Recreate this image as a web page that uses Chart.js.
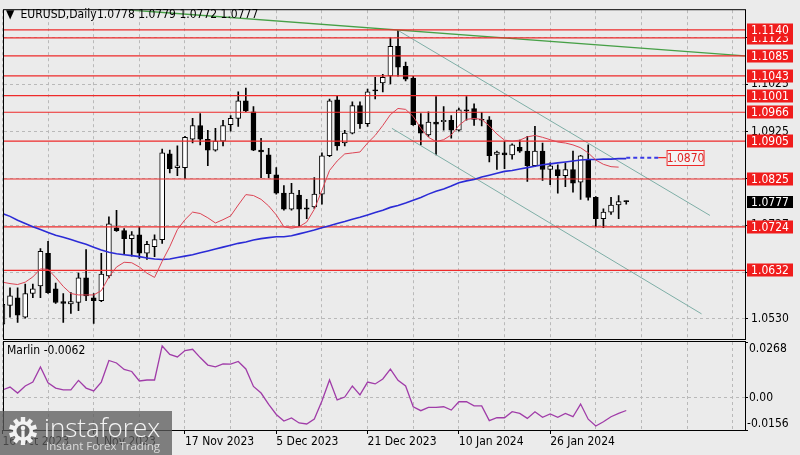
<!DOCTYPE html>
<html>
<head>
<meta charset="utf-8">
<script src="https://cdn.jsdelivr.net/npm/chart.js@4.4.1/dist/chart.umd.min.js"></script>
<style>
  html, body { margin: 0; padding: 0; background: #ebebeb; }
  #wrap { position: relative; width: 800px; height: 455px; overflow: hidden; }
  canvas { position: absolute; left: 0; top: 0; }
</style>
</head>
<body>
<div id="wrap">
  <canvas id="priceChart" width="800" height="455"></canvas>
  <canvas id="marlinChart" width="800" height="455"></canvas>
</div>
<script>
// EURUSD daily, bar 0 = 16 Oct 2023, last bar = the current candle
const opens = [
  1.0518, 1.0558, 1.0574, 1.0533, 1.0583, 1.0599, 1.0668, 1.0593, 1.0566, 1.0561,
  1.0564, 1.0616, 1.0574, 1.0568, 1.0620, 1.0722, 1.0716, 1.0699, 1.0707, 1.0668,
  1.0682, 1.0697, 1.0878, 1.0849, 1.0849, 1.0909, 1.0938, 1.0909, 1.0886, 1.0905,
  1.0940, 1.0953, 1.0990, 1.0967, 1.0886, 1.0876, 1.0834, 1.0795, 1.0761, 1.0791,
  1.0764, 1.0766, 1.0793, 1.0874, 1.0992, 1.0901, 1.0922, 1.0980, 1.0942, 1.1013,
  1.1028, 1.1043, 1.1105, 1.1063, 1.1038, 1.0940, 1.0918, 1.0945, 1.0946, 1.0949,
  1.0928, 1.0971, 1.0974, 1.0951, 1.0950, 1.0877, 1.0880, 1.0876, 1.0892, 1.0884,
  1.0853, 1.0884, 1.0845, 1.0845, 1.0832, 1.0845, 1.0818, 1.0866, 1.0786, 1.0741,
  1.0755, 1.0770, 1.0778
];
const highs = [
  1.0565, 1.0595, 1.0595, 1.0603, 1.0603, 1.0678, 1.0693, 1.0605, 1.0583, 1.0585,
  1.0626, 1.0676, 1.0583, 1.0668, 1.0745, 1.0759, 1.0720, 1.0714, 1.0724, 1.0693,
  1.0707, 1.0888, 1.0886, 1.0895, 1.0915, 1.0953, 1.0963, 1.0928, 1.0932, 1.0949,
  1.0959, 1.1009, 1.1017, 1.0978, 1.0911, 1.0890, 1.0849, 1.0811, 1.0816, 1.0801,
  1.0782, 1.0828, 1.0880, 1.0994, 1.1000, 1.0928, 1.0988, 1.0988, 1.1015, 1.1040,
  1.1046, 1.1123, 1.1139, 1.1072, 1.1042, 1.0963, 1.0967, 1.0999, 1.0978, 1.0959,
  1.0975, 1.0999, 1.0984, 1.0966, 1.0957, 1.0884, 1.0905, 1.0899, 1.0907, 1.0915,
  1.0936, 1.0901, 1.0859, 1.0855, 1.0859, 1.0884, 1.0875, 1.0897, 1.0788, 1.0762,
  1.0786, 1.0790, 1.0779
];
const lows = [
  1.0508, 1.0533, 1.0522, 1.0531, 1.0574, 1.0574, 1.0583, 1.0562, 1.0522, 1.0541,
  1.0547, 1.0568, 1.0520, 1.0566, 1.0616, 1.0714, 1.0666, 1.0662, 1.0657, 1.0655,
  1.0661, 1.0689, 1.0838, 1.0832, 1.0826, 1.0901, 1.0897, 1.0853, 1.0884, 1.0895,
  1.0926, 1.0936, 1.0967, 1.0885, 1.0828, 1.0828, 1.0793, 1.0759, 1.0759, 1.0724,
  1.0741, 1.0763, 1.0772, 1.0872, 1.0886, 1.0895, 1.0920, 1.0932, 1.0936, 1.0994,
  1.1009, 1.1026, 1.1042, 1.1032, 1.0938, 1.0897, 1.0915, 1.0876, 1.0928, 1.0911,
  1.0926, 1.0949, 1.0938, 1.0937, 1.0861, 1.0845, 1.0847, 1.0867, 1.0881, 1.0820,
  1.0851, 1.0822, 1.0813, 1.0795, 1.0809, 1.0797, 1.0782, 1.0780, 1.0724, 1.0722,
  1.0750, 1.0741, 1.0772
];
const closes = [
  1.0560, 1.0578, 1.0537, 1.0583, 1.0593, 1.0672, 1.0585, 1.0564, 1.0562, 1.0566,
  1.0616, 1.0578, 1.0568, 1.0624, 1.0730, 1.0716, 1.0699, 1.0707, 1.0668, 1.0687,
  1.0697, 1.0880, 1.0847, 1.0853, 1.0913, 1.0938, 1.0909, 1.0886, 1.0905, 1.0938,
  1.0953, 1.0990, 1.0969, 1.0886, 1.0882, 1.0836, 1.0795, 1.0761, 1.0795, 1.0761,
  1.0761, 1.0793, 1.0874, 1.0990, 1.0895, 1.0922, 1.0980, 1.0942, 1.1009, 1.1011,
  1.1040, 1.1105, 1.1061, 1.1036, 1.0940, 1.0922, 1.0945, 1.0941, 1.0949, 1.0928,
  1.0971, 1.0969, 1.0951, 1.0949, 1.0874, 1.0882, 1.0876, 1.0897, 1.0884, 1.0853,
  1.0884, 1.0845, 1.0853, 1.0832, 1.0845, 1.0816, 1.0874, 1.0786, 1.0741, 1.0755,
  1.0770, 1.0777, 1.0777
];

// moving averages (red = fast, blue = slow)
const redMA = [
  1.0607, 1.0604, 1.0602, 1.0607, 1.0618, 1.0635, 1.0634, 1.0617, 1.0598, 1.0583,
  1.0580, 1.0580, 1.0580, 1.0589, 1.0618, 1.0639, 1.0649, 1.0648, 1.0639, 1.0626,
  1.0617, 1.0651, 1.0682, 1.0718, 1.0739, 1.0755, 1.0752, 1.0743, 1.0732, 1.0739,
  1.0747, 1.0770, 1.0792, 1.0790, 1.0782, 1.0768, 1.0749, 1.0724, 1.0721, 1.0724,
  1.0734, 1.0761, 1.0801, 1.0843, 1.0863, 1.0878, 1.0880, 1.0882, 1.0901, 1.0917,
  1.0938, 1.0961, 1.0974, 1.0972, 1.0957, 1.0932, 1.0913, 1.0904, 1.0908, 1.0918,
  1.0938, 1.0951, 1.0953, 1.0951, 1.0937, 1.0920, 1.0907, 1.0905, 1.0907, 1.0914,
  1.0917, 1.0913, 1.0908, 1.0903, 1.0901, 1.0897, 1.0891, 1.0880, 1.0865, 1.0856,
  1.0851, 1.0850, null
];
const blueMA = [
  1.0752, 1.0746, 1.0738, 1.0731, 1.0724, 1.0718, 1.0712, 1.0706, 1.0702, 1.0697,
  1.0692, 1.0687, 1.0681, 1.0675, 1.0670, 1.0667, 1.0665, 1.0663, 1.0661, 1.0658,
  1.0656, 1.0655, 1.0656, 1.0659, 1.0662, 1.0665, 1.0669, 1.0673, 1.0677, 1.0681,
  1.0685, 1.0689, 1.0692, 1.0696, 1.0699, 1.0701, 1.0703, 1.0703, 1.0705, 1.0709,
  1.0713, 1.0717, 1.0722, 1.0726, 1.0731, 1.0735, 1.0740, 1.0744, 1.0749, 1.0754,
  1.0759, 1.0765, 1.0769, 1.0774, 1.0780, 1.0786, 1.0793, 1.0799, 1.0804, 1.0810,
  1.0817, 1.0821, 1.0824, 1.0829, 1.0833, 1.0837, 1.0841, 1.0843, 1.0846, 1.0849,
  1.0852, 1.0855, 1.0857, 1.0859, 1.0861, 1.0863, 1.0865, 1.0866, 1.0866, 1.0867,
  1.0867, 1.0868, 1.0868
];
const marlin = [
  0.0037, 0.0051, 0.0022, 0.0056, 0.0075, 0.0148, 0.0071, 0.0046, 0.0037, 0.0037,
  0.0083, 0.0046, 0.0032, 0.0075, 0.0179, 0.0167, 0.0136, 0.0126, 0.0080, 0.0085,
  0.0085, 0.0249, 0.0208, 0.0196, 0.0227, 0.0233, 0.0193, 0.0157, 0.0148, 0.0162,
  0.0161, 0.0174, 0.0138, 0.0054, 0.0022, -0.0033, -0.0081, -0.0113, -0.0098, -0.0122,
  -0.0127, -0.0103, -0.0016, 0.0085, -0.0011, 0.0003, 0.0056, 0.0013, 0.0075, 0.0066,
  0.0090, 0.0137, 0.0083, 0.0056, -0.0044, -0.0063, -0.0047, -0.0047, -0.0044, -0.0060,
  -0.0020, -0.0020, -0.0040, -0.0040, -0.0111, -0.0097, -0.0097, -0.0068, -0.0076, -0.0100,
  -0.0068, -0.0095, -0.0079, -0.0095, -0.0076, -0.0092, -0.0031, -0.0104, -0.0137, -0.0116,
  -0.0092, -0.0076, -0.0062
];

const levels = [1.1140, 1.1123, 1.1085, 1.1043, 1.1001, 1.0966, 1.0905, 1.0825, 1.0724, 1.0632];
const priceTicks = [1.1123, 1.1025, 1.0925, 1.0826, 1.0727, 1.0628, 1.0530];
const marlinTicks = [0.0268, 0, -0.0156];
const dateTickIndex = [0, 12, 24, 36, 48, 60, 72];
const dateTickText = ['16 Oct 2023', '1 Nov 2023', '17 Nov 2023', '5 Dec 2023', '21 Dec 2023', '10 Jan 2024', '26 Jan 2024'];

// trend lines: [bar index, price]
const greenLine = [[16.8, 1.1182], [97.6, 1.1085]];
const channelTop = [[52, 1.1139], [93, 1.0748]];
const channelBottom = [[51.2, 1.0932], [91.9, 1.0540]];
const targetPrice = 1.0870;
const targetLine = [82, 86.2, 87.3]; // dotted start, dotted end / label start

const X_MIN = 0.21, X_MAX = 97.61;
const Y_MIN = 1.04869, Y_MAX = 1.11816;
const FONT = "'DejaVu Sans Condensed', 'Liberation Sans', sans-serif";
const GRID = '#b9b9b9';
const LEVEL_RED = '#ee2a2a';

const gridIdx = [];
for (let v = 0; v <= 96; v += 6) gridIdx.push(v);

function segment(points, color, width, order, dash) {
  return {
    type: 'line',
    data: points.map(p => ({ x: p[0], y: p[1] })),
    borderColor: color,
    borderWidth: width,
    borderDash: dash || [],
    pointRadius: 0,
    tension: 0,
    order: order
  };
}

const datasets = [
  {
    type: 'bar',
    data: highs.map((h, i) => ({ x: i, y: [lows[i], h] })),
    backgroundColor: '#000',
    barThickness: 1,
    grouped: false,
    order: 9
  },
  {
    type: 'bar',
    data: opens.map((o, i) => ({ x: i, y: [o, closes[i]] })),
    backgroundColor: opens.map((o, i) => closes[i] > o ? '#ffffff' : '#000000'),
    borderColor: '#000',
    borderWidth: 1,
    borderSkipped: false,
    barThickness: 5,
    minBarLength: 1,
    grouped: false,
    order: 8
  },
  segment(greenLine, '#47a047', 1.4, 7),
  segment(channelTop, '#7eaea6', 1, 7),
  segment(channelBottom, '#7eaea6', 1, 7)
];
levels.forEach(v => datasets.push(segment([[-10, v], [120, v]], LEVEL_RED, 1.2, 6)));
datasets.push(segment(blueMA.map((v, i) => [i, v]), '#2b2bd6', 1.6, 4));
datasets.push(segment(redMA.map((v, i) => [i, v]), '#dc4454', 1, 3));
datasets.push(segment([[targetLine[0], targetPrice], [targetLine[1], targetPrice]], '#3a3ae6', 2, 2, [4, 3]));
datasets.push(segment([[targetLine[1], targetPrice], [targetLine[2], targetPrice]], LEVEL_RED, 1.2, 2));

const priceOverlay = {
  id: 'priceOverlay',
  afterDraw(chart) {
    const { ctx, chartArea: a, scales: { x, y } } = chart;
    ctx.save();
    ctx.strokeStyle = '#000';
    ctx.lineWidth = 1;
    ctx.strokeRect(a.left - 0.5, a.top - 0.5, a.right - a.left + 1, a.bottom - a.top + 1);

    ctx.font = '12px ' + FONT;
    ctx.textBaseline = 'middle';
    ctx.textAlign = 'center';
    // lowest first so upper labels sit on top
    levels.slice().reverse().forEach(v => {
      const py = Math.round(y.getPixelForValue(v));
      ctx.fillStyle = '#f01c1c';
      ctx.fillRect(747, py - 6.5, 46, 13);
      ctx.fillStyle = '#fff';
      ctx.fillText(v.toFixed(4), 770, py + 0.5);
    });

    const last = closes[closes.length - 1];
    const cy = Math.round(y.getPixelForValue(last));
    ctx.fillStyle = '#000';
    ctx.fillRect(747, cy - 6, 46, 12);
    ctx.fillStyle = '#fff';
    ctx.fillText(last.toFixed(4), 770, cy + 0.5);

    // target price label
    const tx = x.getPixelForValue(targetLine[2]);
    const ty = Math.round(y.getPixelForValue(targetPrice));
    ctx.fillStyle = '#f3f3f3';
    ctx.fillRect(tx, ty - 8, 38, 16);
    ctx.strokeStyle = LEVEL_RED;
    ctx.strokeRect(tx + 0.5, ty - 7.5, 37, 15);
    ctx.fillStyle = '#e02424';
    ctx.fillText(targetPrice.toFixed(4), tx + 19, ty + 0.5);

    // header
    ctx.textAlign = 'left';
    ctx.fillStyle = '#000';
    ctx.fillText('\u25BC', 6, 15);
    ctx.fillText('EURUSD,Daily', 20.5, 15);
    const n = opens.length - 1;
    ctx.fillText([opens[n], highs[n], lows[n], closes[n]].map(v => v.toFixed(4)).join(' '), 97, 15);
    ctx.restore();
  }
};

new Chart(document.getElementById('priceChart'), {
  type: 'bar',
  data: { datasets },
  options: {
    responsive: false,
    animation: false,
    events: [],
    layout: { padding: { left: 4, top: 5, right: 0, bottom: 116 }, autoPadding: false },
    plugins: { legend: { display: false }, tooltip: { enabled: false } },
    scales: {
      x: {
        type: 'linear', min: X_MIN, max: X_MAX, offset: false,
        afterBuildTicks: s => { s.ticks = gridIdx.map(v => ({ value: v })); },
        afterFit: s => { s.height = 0; },
        ticks: { display: false },
        grid: { color: GRID, drawTicks: false, offset: false },
        border: { display: false, dash: [3, 3] }
      },
      y: {
        type: 'linear', position: 'right', min: Y_MIN, max: Y_MAX,
        afterBuildTicks: s => { s.ticks = priceTicks.map(v => ({ value: v })); },
        afterFit: s => { s.width = 55; },
        ticks: { color: '#000', padding: 3, font: { family: FONT, size: 12 }, callback: v => v.toFixed(4) },
        grid: { color: GRID, tickColor: '#000', tickLength: 3, tickBorderDash: [] },
        border: { display: false, dash: [3, 3] }
      }
    }
  },
  plugins: [priceOverlay]
});

function drawWatermark(ctx) {
  ctx.fillStyle = 'rgba(92,92,92,0.76)';
  ctx.fillRect(0, 411, 172, 44);
  // gear
  const cx = 23, cy = 431;
  ctx.fillStyle = '#f2f2f2';
  for (let k = 0; k < 10; k++) {
    ctx.save();
    ctx.translate(cx, cy);
    ctx.rotate(k * Math.PI / 5);
    ctx.fillRect(-2.2, -14, 4.4, 6);
    ctx.restore();
  }
  ctx.beginPath();
  ctx.arc(cx, cy, 10, 0, Math.PI * 2);
  ctx.fill();
  ctx.fillStyle = 'rgb(100,100,100)';
  ctx.beginPath();
  ctx.arc(cx, cy, 6.5, 0, Math.PI * 2);
  ctx.fill();
  ctx.fillStyle = '#f2f2f2';
  ctx.beginPath();
  ctx.arc(cx, cy - 3, 2.3, 0, Math.PI * 2);
  ctx.fill();
  ctx.fillRect(cx - 1.6, cy - 0.5, 3.2, 8);

  ctx.textAlign = 'left';
  ctx.textBaseline = 'alphabetic';
  ctx.fillStyle = '#f4f4f4';
  ctx.font = "300 26px 'Open Sans', sans-serif";
  ctx.fillText('instaforex', 44, 437);
  ctx.fillStyle = 'rgba(235,235,235,0.85)';
  ctx.font = "11.5px 'Open Sans', sans-serif";
  ctx.fillText('Instant Forex Trading', 46, 450);
}

const marlinOverlay = {
  id: 'marlinOverlay',
  afterDraw(chart) {
    const { ctx, chartArea: a, scales: { y } } = chart;
    ctx.save();
    ctx.strokeStyle = '#000';
    ctx.lineWidth = 1;
    ctx.strokeRect(a.left - 0.5, a.top - 0.5, a.right - a.left + 1, a.bottom - a.top + 1);

    ctx.font = '12px ' + FONT;
    ctx.fillStyle = '#000';
    ctx.textAlign = 'left';
    y.ticks.forEach(t => {
      const py = y.getPixelForValue(t.value);
      ctx.textBaseline = t.value === y.max ? 'top' : (t.value === y.min ? 'bottom' : 'middle');
      const txt = t.value === 0 ? '0.00' : t.value.toFixed(4);
      ctx.fillText(txt, t.value < 0 ? 747 : 749, py + (t.value === y.max ? 1 : 0));
    });
    ctx.textBaseline = 'middle';
    ctx.fillText('Marlin ' + marlin[marlin.length - 1].toFixed(4), 7, 351);

    drawWatermark(ctx);
    ctx.restore();
  }
};

new Chart(document.getElementById('marlinChart'), {
  type: 'line',
  data: {
    datasets: [{
      data: marlin.map((v, i) => ({ x: i, y: v })),
      borderColor: '#a03ca8',
      borderWidth: 1.3,
      pointRadius: 0,
      tension: 0
    }]
  },
  options: {
    responsive: false,
    animation: false,
    events: [],
    layout: { padding: { left: 4, top: 342, right: 0, bottom: 0 }, autoPadding: false },
    plugins: { legend: { display: false }, tooltip: { enabled: false } },
    scales: {
      x: {
        type: 'linear', min: X_MIN, max: X_MAX, offset: false,
        afterBuildTicks: s => { s.ticks = gridIdx.map(v => ({ value: v })); },
        afterFit: s => { s.height = 25; },
        ticks: {
          align: 'start', padding: 1, color: '#000', maxRotation: 0, autoSkip: false,
          font: { family: FONT, size: 12 },
          callback: v => { const k = dateTickIndex.indexOf(v); return k >= 0 ? dateTickText[k] : ''; }
        },
        grid: {
          color: GRID, tickLength: 4, tickBorderDash: [],
          tickColor: c => dateTickIndex.includes(c.tick && c.tick.value) ? '#000' : 'rgba(0,0,0,0)'
        },
        border: { display: false, dash: [3, 3] }
      },
      y: {
        type: 'linear', position: 'right', min: -0.0156, max: 0.0268,
        afterBuildTicks: s => { s.ticks = marlinTicks.map(v => ({ value: v })); },
        afterFit: s => { s.width = 55; },
        ticks: { display: false },
        grid: {
          color: c => c.tick && c.tick.value === 0 ? GRID : 'rgba(0,0,0,0)',
          tickColor: '#000', tickLength: 3, tickBorderDash: []
        },
        border: { display: false, dash: [3, 3] }
      }
    }
  },
  plugins: [marlinOverlay]
});
</script>
</body>
</html>
